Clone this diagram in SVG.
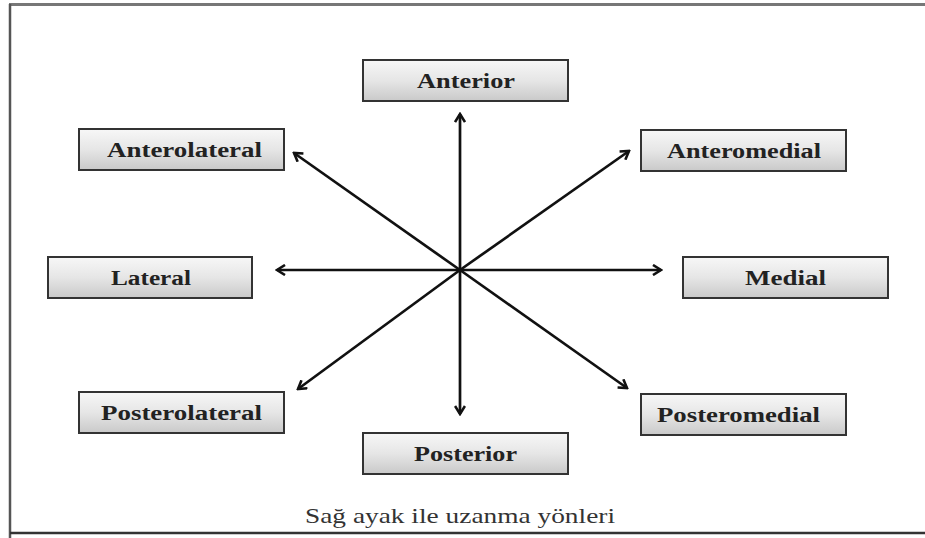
<svg xmlns="http://www.w3.org/2000/svg" width="925" height="538" viewBox="0 0 925 538">
<defs>
<linearGradient id="g" x1="0" y1="0" x2="0" y2="1">
<stop offset="0" stop-color="#f7f7f7"/>
<stop offset="0.5" stop-color="#e6e6e6"/>
<stop offset="1" stop-color="#c9c9c9"/>
</linearGradient>
<marker id="ah" viewBox="0 0 12 12" refX="10" refY="6" markerWidth="12" markerHeight="12" markerUnits="userSpaceOnUse" orient="auto">
<path d="M2,1 L10,6 L2,11" fill="none" stroke="#111" stroke-width="2.6" stroke-linejoin="miter"/>
</marker>
</defs>
<style>
.box rect{fill:url(#g);stroke:#333;stroke-width:2}
.box text{font-family:"Liberation Serif",serif;font-weight:bold;font-size:20px;fill:#222;text-anchor:middle;dominant-baseline:central}
.conn line{stroke:#111;stroke-width:2.7;marker-end:url(#ah)}
.cap{font-family:"Liberation Serif",serif;font-size:21px;fill:#333;text-anchor:middle}
</style>
<rect x="0" y="0" width="925" height="538" fill="#fff"/>
<g id="frame" fill="none">
<line x1="9" y1="4.5" x2="925" y2="4.5" stroke="#777" stroke-width="3"/>
<line x1="10" y1="4" x2="10" y2="538" stroke="#555" stroke-width="2.5"/>
<line x1="10" y1="533" x2="925" y2="533" stroke="#333" stroke-width="2.5"/>
</g>
<g id="connectors" class="conn">
<line x1="460" y1="270" x2="460" y2="114"/>
<line x1="460" y1="270" x2="460" y2="414"/>
<line x1="460" y1="270" x2="277" y2="270"/>
<line x1="460" y1="270" x2="661" y2="270"/>
<line x1="460" y1="270" x2="294" y2="153"/>
<line x1="460" y1="270" x2="629" y2="151"/>
<line x1="460" y1="270" x2="298" y2="389"/>
<line x1="460" y1="270" x2="627" y2="388"/>
</g>
<g id="anterior" class="box"><rect x="363" y="60" width="205" height="41"/><text x="466" y="80.5" textLength="98" lengthAdjust="spacingAndGlyphs">Anterior</text></g>
<g id="anterolateral" class="box"><rect x="79" y="129" width="205" height="41"/><text x="184.5" y="149.5" textLength="155" lengthAdjust="spacingAndGlyphs">Anterolateral</text></g>
<g id="anteromedial" class="box"><rect x="641" y="130" width="205" height="41"/><text x="744" y="150.5" textLength="154" lengthAdjust="spacingAndGlyphs">Anteromedial</text></g>
<g id="lateral" class="box"><rect x="48" y="257" width="204" height="41"/><text x="151" y="277.5" textLength="80" lengthAdjust="spacingAndGlyphs">Lateral</text></g>
<g id="medial" class="box"><rect x="683" y="257" width="205" height="41"/><text x="785.5" y="277.5" textLength="81" lengthAdjust="spacingAndGlyphs">Medial</text></g>
<g id="posterolateral" class="box"><rect x="79" y="392" width="205" height="41"/><text x="181.5" y="412.5" textLength="161" lengthAdjust="spacingAndGlyphs">Posterolateral</text></g>
<g id="posteromedial" class="box"><rect x="641" y="394" width="205" height="41"/><text x="738.5" y="414.5" textLength="163" lengthAdjust="spacingAndGlyphs">Posteromedial</text></g>
<g id="posterior" class="box"><rect x="363" y="433" width="205" height="41"/><text x="465.5" y="453.5" textLength="103" lengthAdjust="spacingAndGlyphs">Posterior</text></g>
<text class="cap" x="460" y="523" textLength="310" lengthAdjust="spacingAndGlyphs">Sağ ayak ile uzanma yönleri</text>
</svg>
